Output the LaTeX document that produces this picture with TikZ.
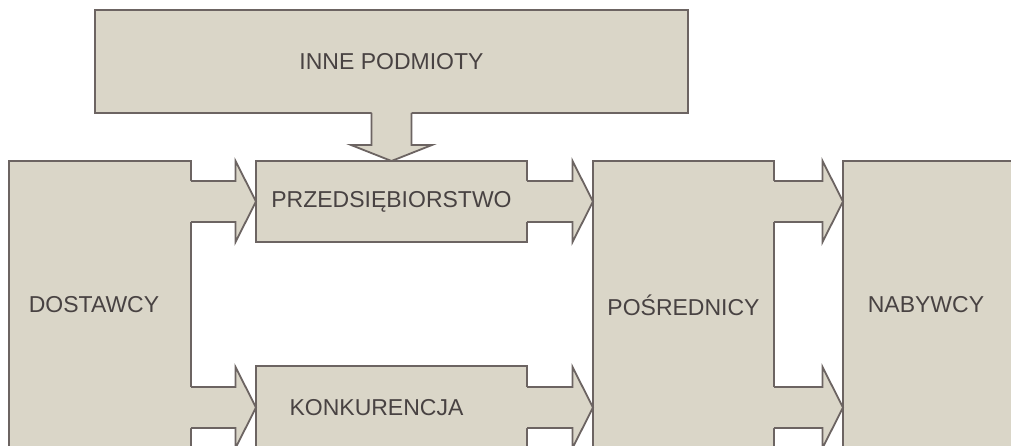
\documentclass[tikz,border=0pt]{standalone}
\usepackage{fontspec}
\setmainfont{Liberation Sans}
\usetikzlibrary{calc}

\definecolor{boxfill}{RGB}{218,214,200}
\definecolor{boxline}{RGB}{108,100,98}
\definecolor{boxtext}{RGB}{72,66,66}

\tikzset{
  box/.style={rectangle, draw=boxline, fill=boxfill, line width=1.8pt,
              inner sep=0pt, outer sep=0pt, anchor=north west,
              text=boxtext, font=\fontsize{23}{27}\selectfont},
  lbl/.style={text=boxtext, font=\fontsize{23}{27}\selectfont, inner sep=0pt},
  arrowline/.style={draw=boxline, line width=1.8pt, line join=miter},
}

% horizontal block arrow: shaft leaves the box side at #1, tip touches #2
\newcommand\blockarrow[2]{%
  \path let \p1=(#1), \p2=(#2) in
    [fill=boxfill]
    (\x1-2pt,\y1+20.5pt) -- (\x2-20.5pt,\y1+20.5pt) -- (\x2-20.5pt,\y1+40.5pt)
    -- (\x2,\y1) -- (\x2-20.5pt,\y1-40.5pt) -- (\x2-20.5pt,\y1-20.5pt)
    -- (\x1-2pt,\y1-20.5pt) -- cycle;
  \path let \p1=(#1), \p2=(#2) in
    [arrowline]
    (\x1,\y1+20.5pt) -- (\x2-20.5pt,\y1+20.5pt) -- (\x2-20.5pt,\y1+40.5pt)
    -- (\x2,\y1) -- (\x2-20.5pt,\y1-40.5pt) -- (\x2-20.5pt,\y1-20.5pt)
    -- (\x1,\y1-20.5pt);
}

\begin{document}
\begin{tikzpicture}[x=1pt,y=-1pt]
  \fill[white] (0,0) rectangle (1011,446);
  \useasboundingbox (0,0) rectangle (1011,446);
  \clip (0,0) rectangle (1011,446);

  % boxes
  \node[box, minimum width=593, minimum height=103] (inne) at (95,10) {INNE PODMIOTY};
  \node[box, minimum width=182, minimum height=288] (dost) at (9,161) {};
  \node[lbl] (dostt) at ([xshift=-6pt]dost.center) {DOSTAWCY};
  \node[box, minimum width=271, minimum height=81] (przed) at (256,161) {PRZEDSIĘBIORSTWO};
  \node[box, minimum width=271, minimum height=83] (konk) at (256,366) {};
  \node[lbl] (konkt) at ([xshift=-15pt]konk.center) {KONKURENCJA};
  \node[box, minimum width=181, minimum height=288] (posr) at (593,161) {POŚREDNICY};
  \node[box, minimum width=180, minimum height=288] (naby) at (843,161) {};
  \node[lbl] (nabyt) at (926,305) {NABYWCY};

  % block arrows between the boxes
  \blockarrow{dost.east |- przed.west}{przed.west}
  \blockarrow{dost.east |- konk.west}{konk.west}
  \blockarrow{przed.east}{posr.west |- przed.east}
  \blockarrow{konk.east}{posr.west |- konk.east}
  \blockarrow{posr.east |- przed.east}{naby.west |- przed.east}
  \blockarrow{posr.east |- konk.east}{naby.west |- konk.east}

  % downward block arrow from the top box
  \path let \p1=(inne.south), \p2=(przed.north -| inne.south) in
    [fill=boxfill]
    (\x1-20pt,\y1+2pt) -- (\x1-20pt,\y2+16pt) -- (\x1-40.5pt,\y2+16pt)
    -- (\x2,\y2) -- (\x1+40.5pt,\y2+16pt) -- (\x1+20pt,\y2+16pt)
    -- (\x1+20pt,\y1+2pt) -- cycle;
  \path let \p1=(inne.south), \p2=(przed.north -| inne.south) in
    [arrowline]
    (\x1-20pt,\y1) -- (\x1-20pt,\y2+16pt) -- (\x1-40.5pt,\y2+16pt)
    -- (\x2,\y2) -- (\x1+40.5pt,\y2+16pt) -- (\x1+20pt,\y2+16pt)
    -- (\x1+20pt,\y1);
\end{tikzpicture}
\end{document}
